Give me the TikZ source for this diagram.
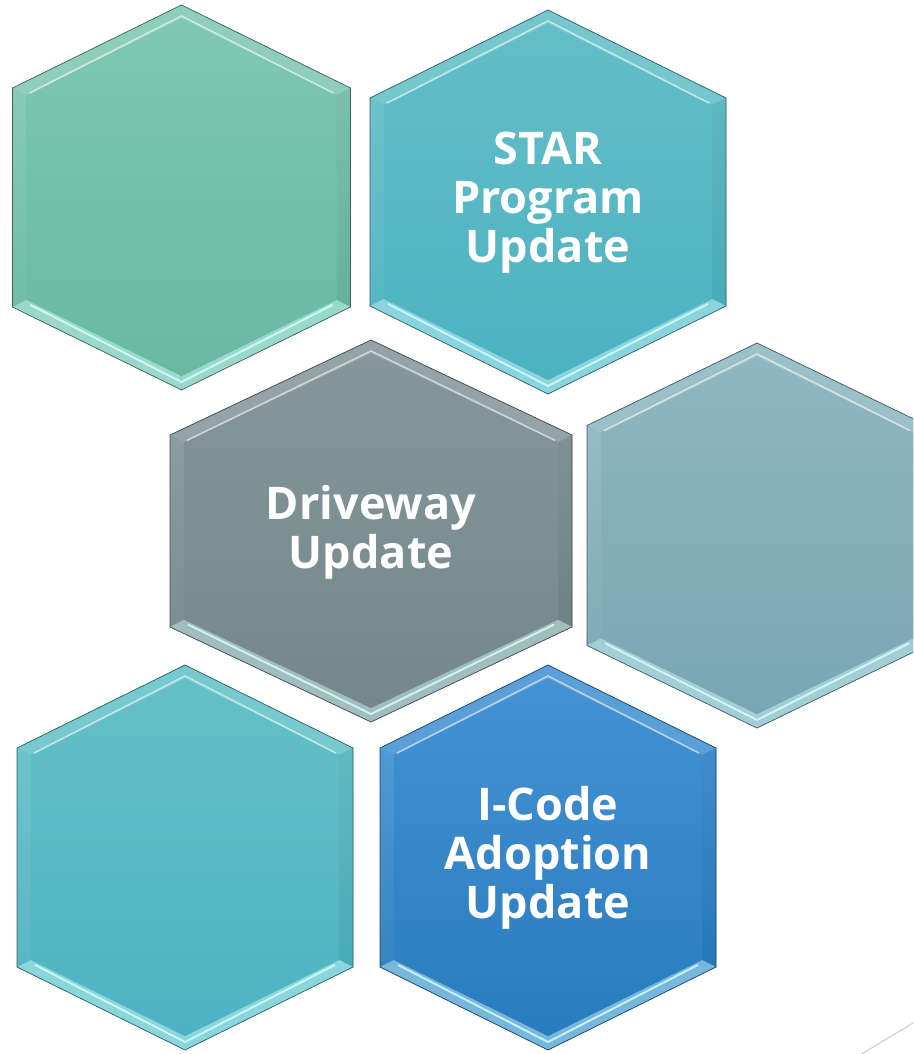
\documentclass[tikz,border=0pt]{standalone}
\usepackage{fontspec}
\setmainfont{Open Sans}
\definecolor{gTop}{RGB}{127,199,177}\definecolor{gBot}{RGB}{104,185,160}
\definecolor{tTop}{RGB}{99,190,199}\definecolor{tBot}{RGB}{76,178,193}
\definecolor{sTop}{RGB}{133,151,155}\definecolor{sBot}{RGB}{116,135,138}
\definecolor{bgTop}{RGB}{143,183,193}\definecolor{bgBot}{RGB}{120,166,179}
\definecolor{cTop}{RGB}{100,192,200}\definecolor{cBot}{RGB}{77,178,192}
\definecolor{bTop}{RGB}{68,146,212}\definecolor{bBot}{RGB}{40,124,190}
\definecolor{hiCyan}{RGB}{215,255,255}
\newcommand\hexcell[7]{%
\pgfmathsetmacro{\hxw}{#3}\pgfmathsetmacro{\hxt}{#4}\pgfmathsetmacro{\hxs}{#5}%
\pgfmathsetmacro{\hxiw}{\hxw-14}\pgfmathsetmacro{\hxit}{\hxt-14}%
\pgfmathsetmacro{\hxis}{\hxs-14+14*(\hxt-\hxs)/\hxw}%
\colorlet{hxtop}{#6}\colorlet{hxbot}{#7}%
\begin{scope}[shift={(#1,#2)}]
\coordinate (hT) at (0,-\hxt);\coordinate (hUR) at (\hxw,-\hxs);
\coordinate (hLR) at (\hxw,\hxs);\coordinate (hB) at (0,\hxt);
\coordinate (hLL) at (-\hxw,\hxs);\coordinate (hUL) at (-\hxw,-\hxs);
\coordinate (iT) at (0,-\hxit);\coordinate (iUR) at (\hxiw,-\hxis);
\coordinate (iLR) at (\hxiw,\hxis);\coordinate (iB) at (0,\hxit);
\coordinate (iLL) at (-\hxiw,\hxis);\coordinate (iUL) at (-\hxiw,-\hxis);
\fill[black!30,opacity=0.35,shift={(2,3)}] (hT)--(hUR)--(hLR)--(hB)--(hLL)--(hUL)--cycle;
\shade[top color=hxtop,bottom color=hxbot] (hT)--(hUR)--(hLR)--(hB)--(hLL)--(hUL)--cycle;
\fill[hxtop!88!white] (hUL)--(hT)--(iT)--(iUL)--cycle;
\fill[hxtop!88!white] (hT)--(hUR)--(iUR)--(iT)--cycle;
\shade[top color=hxtop!96!black,bottom color=hxbot!96!black] (hUR)--(hLR)--(iLR)--(iUR)--cycle;
\shade[top color=hxtop!94!white,bottom color=hxbot!94!white] (hLL)--(hUL)--(iUL)--(iLL)--cycle;
\fill[hxbot!55!hiCyan] (hLR)--(hB)--(iB)--(iLR)--cycle;
\fill[hxbot!55!hiCyan] (hB)--(hLL)--(iLL)--(iB)--cycle;
\shade[top color=hxtop,bottom color=hxbot] (iT)--(iUR)--(iLR)--(iB)--(iLL)--(iUL)--cycle;
\draw[white,opacity=0.55,line width=1.6pt,line join=miter] ([shift={(3,-2)}]iUL)--([shift={(0,-3)}]iT)--([shift={(-3,-2)}]iUR);
\draw[hiCyan,opacity=0.8,line width=2pt] ([shift={(4,5)}]iLL)--([shift={(0,6)}]iB)--([shift={(-4,5)}]iLR);
\draw[hxbot!55!black,line width=0.7pt,line join=miter] (hT)--(hUR)--(hLR)--(hB)--(hLL)--(hUL)--cycle;
\end{scope}}
\begin{document}
\begin{tikzpicture}[x=1pt,y=-1pt,
  lbl/.style={text=white,align=center,inner sep=0pt,
    font=\fontsize{45}{49}\selectfont\bfseries}]
\useasboundingbox (0,0) rectangle (913,1054);
\clip (0,0) rectangle (913,1054);
\hexcell{181.5}{197.5}{169}{192.5}{109.5}{gTop}{gBot}
\hexcell{548}{202}{178}{192}{104}{tTop}{tBot}
\hexcell{371}{531}{201}{191}{96}{sTop}{sBot}
\hexcell{757}{535.5}{170}{192.5}{110}{bgTop}{bgBot}
\hexcell{185}{857.5}{168}{192.5}{109.5}{cTop}{cBot}
\hexcell{548}{857.5}{168}{192.5}{109.5}{bTop}{bBot}
\node[lbl] (star) at (548,203) {STAR\\Program\\Update};
\node[lbl] (drive) at (371,532) {Driveway\\Update};
\node[lbl] (icode) at (548,858) {I-Code\\Adoption\\Update};
\coordinate (d1) at (913,1023);
\coordinate (d2) at (845,1064);
\draw[black!25,line width=0.8pt] (d1)--(d2);
\end{tikzpicture}
\end{document}
